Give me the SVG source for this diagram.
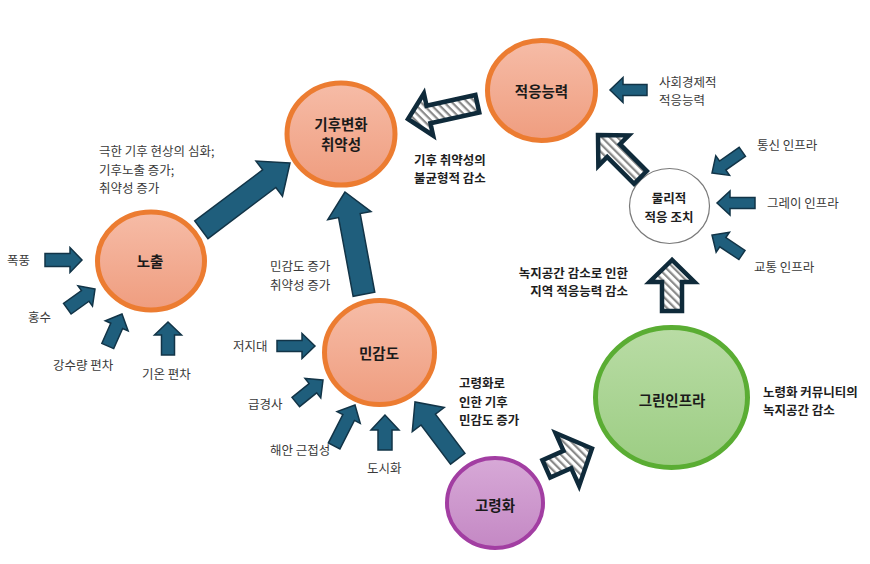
<svg xmlns="http://www.w3.org/2000/svg" width="870" height="564" viewBox="0 0 870 564">
<defs>
<linearGradient id="gOrange" x1="0" y1="0" x2="0" y2="1">
<stop offset="0" stop-color="#f6bca7"/><stop offset="1" stop-color="#ef9d7f"/>
</linearGradient>
<linearGradient id="gGreen" x1="0" y1="0" x2="0" y2="1">
<stop offset="0" stop-color="#b9dca5"/><stop offset="1" stop-color="#9ccd83"/>
</linearGradient>
<linearGradient id="gPurple" x1="0" y1="0" x2="0" y2="1">
<stop offset="0" stop-color="#d7a9d7"/><stop offset="1" stop-color="#c488c4"/>
</linearGradient>
<pattern id="hA" patternUnits="userSpaceOnUse" width="5.5" height="6" patternTransform="rotate(-32.6)"><rect width="5.5" height="6" fill="#fff"/><rect width="2.2" height="6" fill="#8a8a8a"/></pattern>
<pattern id="hB" patternUnits="userSpaceOnUse" width="5.5" height="6" patternTransform="rotate(90)"><rect width="5.5" height="6" fill="#fff"/><rect width="2.2" height="6" fill="#8a8a8a"/></pattern>
<pattern id="hC" patternUnits="userSpaceOnUse" width="5.5" height="6" patternTransform="rotate(45)"><rect width="5.5" height="6" fill="#fff"/><rect width="2.2" height="6" fill="#8a8a8a"/></pattern>
<pattern id="hD" patternUnits="userSpaceOnUse" width="5.5" height="6" patternTransform="rotate(-21)"><rect width="5.5" height="6" fill="#fff"/><rect width="2.2" height="6" fill="#8a8a8a"/></pattern>
</defs>
<style>
text{font-family:"Noto Sans CJK KR","Noto Sans",sans-serif;}
.orange{fill:url(#gOrange);stroke:#ec7c31;stroke-width:5;}
.label{font-size:14.5px;font-weight:bold;fill:#1a1a1a;text-anchor:middle;}
.note{font-size:12.5px;fill:#3a3a3a;}
.bnote{font-size:12.5px;font-weight:bold;fill:#1e1e1e;}
.blue{fill:#1f5e7c;stroke:#123447;stroke-width:1.5;stroke-linejoin:miter;}
.hatch{stroke:#0f2a3a;stroke-width:4.5;stroke-linejoin:miter;}
</style>
<rect width="870" height="564" fill="#ffffff"/>

<g id="node-vulnerability">
<ellipse class="orange" cx="341" cy="134" rx="54" ry="51"/>
<text class="label" x="341" y="130">기후변화</text>
<text class="label" x="341" y="150">취약성</text>
</g>
<g id="node-adaptive-capacity">
<ellipse class="orange" cx="541.5" cy="90.5" rx="54" ry="50"/>
<text class="label" x="541.5" y="97">적응능력</text>
</g>
<g id="node-physical">
<ellipse cx="669.5" cy="206" rx="40" ry="37.5" fill="#fff" stroke="#7a7a7a" stroke-width="1.2"/>
<text x="669" y="202.5" style="font-size:12.5px;font-weight:bold;fill:#1e1e1e;text-anchor:middle">물리적</text>
<text x="669" y="221.5" style="font-size:12.5px;font-weight:bold;fill:#1e1e1e;text-anchor:middle">적응 조치</text>
</g>
<g id="node-exposure">
<ellipse class="orange" cx="151" cy="261" rx="53.5" ry="49"/>
<text class="label" x="150" y="266.5">노출</text>
</g>
<g id="node-sensitivity">
<ellipse class="orange" cx="379.5" cy="352.5" rx="55" ry="52"/>
<text class="label" x="379" y="359">민감도</text>
</g>
<g id="node-aging">
<ellipse cx="495" cy="503" rx="48" ry="45" fill="url(#gPurple)" stroke="#a23ea2" stroke-width="4"/>
<text class="label" x="495" y="510.5">고령화</text>
</g>
<g id="node-green">
<ellipse cx="671.5" cy="397.5" rx="76" ry="70" fill="url(#gGreen)" stroke="#5aad33" stroke-width="5"/>
<text class="label" x="672" y="405.5">그린인프라</text>
</g>

<g id="connectors">
<path class="blue" transform="translate(290,163) rotate(-37)" d="M0,0 L-26,-22 L-26,-11 L-111,-11 L-111,11 L-26,11 L-26,22 Z"/>
<path class="blue" transform="translate(345,192) rotate(-100.5)" d="M0,0 L-24,-22 L-24,-11 L-104,-11 L-104,11 L-24,11 L-24,22 Z"/>
<path class="blue" transform="translate(415,402) rotate(-127)" d="M0,0 L-22,-20 L-22,-9 L-71,-9 L-71,9 L-22,9 L-22,20 Z"/>
<path class="hatch" fill="url(#hA)" transform="translate(408,119) rotate(167.6)" d="M0,0 L-21,-21.5 L-21,-9 L-71,-9 L-71,9 L-21,9 L-21,21.5 Z"/>
<path class="hatch" fill="url(#hB)" transform="translate(598,135) rotate(-135)" d="M0,0 L-22,-21.5 L-22,-9 L-60,-9 L-60,9 L-22,9 L-22,21.5 Z"/>
<path class="hatch" fill="url(#hC)" transform="translate(672,260) rotate(-90)" d="M0,0 L-22,-22.5 L-22,-10 L-51,-10 L-51,10 L-22,10 L-22,22.5 Z"/>
<path class="hatch" fill="url(#hD)" transform="translate(592,448.5) rotate(-24)" d="M0,0 L-27,-29 L-27,-9.5 L-50,-9.5 L-50,9.5 L-27,9.5 L-27,29 Z"/>
<path class="blue" transform="translate(610,90) rotate(180)" d="M0,0 L-13,-12.5 L-13,-5.5 L-37,-5.5 L-37,5.5 L-13,5.5 L-13,12.5 Z"/>
<path class="blue" transform="translate(712,173) rotate(145)" d="M0,0 L-13,-12 L-13,-5.5 L-37,-5.5 L-37,5.5 L-13,5.5 L-13,12 Z"/>
<path class="blue" transform="translate(717,203) rotate(180)" d="M0,0 L-13,-12 L-13,-5.5 L-38,-5.5 L-38,5.5 L-13,5.5 L-13,12 Z"/>
<path class="blue" transform="translate(712,235) rotate(-146.3)" d="M0,0 L-13,-12 L-13,-5.5 L-36,-5.5 L-36,5.5 L-13,5.5 L-13,12 Z"/>
<path class="blue" transform="translate(82,260) rotate(0)" d="M0,0 L-12,-12.5 L-12,-6.5 L-37,-6.5 L-37,6.5 L-12,6.5 L-12,12.5 Z"/>
<path class="blue" transform="translate(95,289) rotate(-35.5)" d="M0,0 L-12,-12.5 L-12,-6.5 L-34,-6.5 L-34,6.5 L-12,6.5 L-12,12.5 Z"/>
<path class="blue" transform="translate(122,314) rotate(-66)" d="M0,0 L-13,-12.5 L-13,-6.5 L-35,-6.5 L-35,6.5 L-13,6.5 L-13,12.5 Z"/>
<path class="blue" transform="translate(168,322) rotate(-90)" d="M0,0 L-13,-13.5 L-13,-6.5 L-33,-6.5 L-33,6.5 L-13,6.5 L-13,13.5 Z"/>
<path class="blue" transform="translate(315,346) rotate(0)" d="M0,0 L-13,-12.5 L-13,-5.5 L-38,-5.5 L-38,5.5 L-13,5.5 L-13,12.5 Z"/>
<path class="blue" transform="translate(323,380) rotate(-39)" d="M0,0 L-13,-12.5 L-13,-6 L-35,-6 L-35,6 L-13,6 L-13,12.5 Z"/>
<path class="blue" transform="translate(355,405) rotate(-63)" d="M0,0 L-14,-13 L-14,-6.5 L-46,-6.5 L-46,6.5 L-14,6.5 L-14,13 Z"/>
<path class="blue" transform="translate(385,415) rotate(-90)" d="M0,0 L-15,-14 L-15,-7 L-35,-7 L-35,7 L-15,7 L-15,14 Z"/>
</g>

<g id="texts">
<text class="note" x="99" y="156">극한 기후 현상의 심화;</text>
<text class="note" x="99" y="174.5">기후노출 증가;</text>
<text class="note" x="99" y="193">취약성 증가</text>
<text class="note" x="270" y="271">민감도 증가</text>
<text class="note" x="270" y="289.5">취약성 증가</text>
<text class="bnote" x="414" y="164.5">기후 취약성의</text>
<text class="bnote" x="414" y="183">불균형적 감소</text>
<text class="note" x="659" y="86.5">사회경제적</text>
<text class="note" x="659" y="105">적응능력</text>
<text class="note" x="757" y="149.5">통신 인프라</text>
<text class="note" x="767" y="207.5">그레이 인프라</text>
<text class="note" x="754" y="271.5">교통 인프라</text>
<text class="bnote" x="628" y="277.5" text-anchor="end">녹지공간 감소로 인한</text>
<text class="bnote" x="628" y="296" text-anchor="end">지역 적응능력 감소</text>
<text class="bnote" x="763" y="396.5">노령화 커뮤니티의</text>
<text class="bnote" x="763" y="415">녹지공간 감소</text>
<text class="bnote" x="459" y="388">고령화로</text>
<text class="bnote" x="459" y="406.5">인한 기후</text>
<text class="bnote" x="459" y="425">민감도 증가</text>
<text class="note" x="7" y="265">폭풍</text>
<text class="note" x="28" y="321.5">홍수</text>
<text class="note" x="53" y="369.5">강수량 편차</text>
<text class="note" x="142" y="378.5">기온 편차</text>
<text class="note" x="233" y="351">저지대</text>
<text class="note" x="248" y="408.5">급경사</text>
<text class="note" x="270" y="454.5">해안 근접성</text>
<text class="note" x="367" y="472.5">도시화</text>
</g>
</svg>
